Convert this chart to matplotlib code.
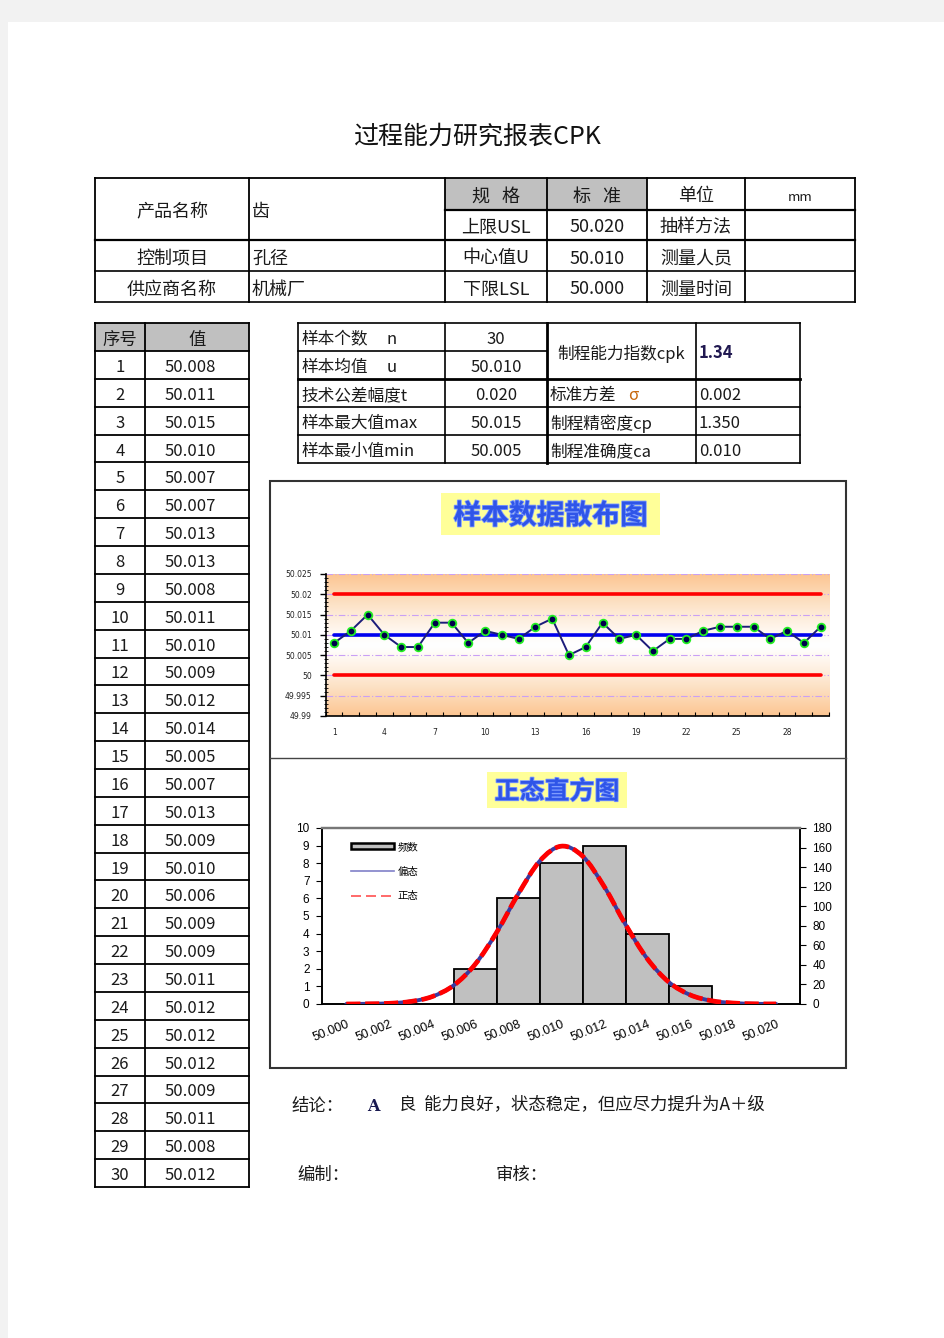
import numpy as np
import matplotlib
matplotlib.use('Agg')
import matplotlib.pyplot as plt
from matplotlib.path import Path
from matplotlib.patches import PathPatch, Rectangle, Patch
from matplotlib.lines import Line2D
from matplotlib.colors import LinearSegmentedColormap
import matplotlib.patheffects as pe

CJK = ['Noto Sans CJK SC', 'DejaVu Sans']
plt.rcParams['font.family'] = CJK
plt.rcParams['axes.unicode_minus'] = False

# ---------------- data ----------------
report_title = '过程能力研究报表CPK'

header_col1 = ['产品名称', '控制项目', '供应商名称']
header_col2 = ['齿', '孔径', '机械厂']
spec_labels = ['规   格', '上限USL', '中心值U', '下限LSL']
spec_values = ['标   准', '50.020', '50.010', '50.000']
info_labels = ['单位', '抽样方法', '测量人员', '测量时间']
info_values = ['mm', '', '', '']

sample_no = list(range(1, 31))
sample_values = [50.008, 50.011, 50.015, 50.010, 50.007, 50.007, 50.013, 50.013,
                 50.008, 50.011, 50.010, 50.009, 50.012, 50.014, 50.005, 50.007,
                 50.013, 50.009, 50.010, 50.006, 50.009, 50.009, 50.011, 50.012,
                 50.012, 50.012, 50.009, 50.011, 50.008, 50.012]
usl = 50.020
center_u = 50.010
lsl = 50.000

stat_left_labels = ['样本个数', '样本均值', '技术公差幅度t', '样本最大值max', '样本最小值min']
stat_left_symbols = ['n', 'u', '', '', '']
stat_left_values = ['30', '50.010', '0.020', '50.015', '50.005']
stat_right_labels = ['制程能力指数cpk', '标准方差', '制程精密度cp', '制程准确度ca']
stat_right_values = ['1.34', '0.002', '1.350', '0.010']

scatter_title = '样本数据散布图'
scatter_xticks = [1, 4, 7, 10, 13, 16, 19, 22, 25, 28]
scatter_yticks = [49.99, 49.995, 50.0, 50.005, 50.01, 50.015, 50.02, 50.025]
scatter_ylabels = ['49.99', '49.995', '50', '50.005', '50.01', '50.015', '50.02', '50.025']

hist_title = '正态直方图'
hist_bins = [50.006, 50.008, 50.010, 50.012, 50.014, 50.016]
hist_counts = [2, 6, 8, 9, 4, 1]
hist_xticks = [50.000, 50.002, 50.004, 50.006, 50.008, 50.010,
               50.012, 50.014, 50.016, 50.018, 50.020]
hist_xlabels = ['50.000', '50.002', '50.004', '50.006', '50.008', '50.010',
                '50.012', '50.014', '50.016', '50.018', '50.020']
curve_x = [50.000, 50.001, 50.002, 50.003, 50.004, 50.005, 50.006, 50.007,
           50.008, 50.009, 50.010, 50.011, 50.012, 50.013, 50.014, 50.015,
           50.016, 50.017, 50.018, 50.019, 50.020]
curve_skew = [0.0, 0.2, 0.7, 2.6, 7.6, 19.1, 40.7, 73.4, 112.5, 146.2, 161.4,
              151.1, 120.1, 81.0, 46.4, 22.5, 9.3, 3.3, 1.0, 0.2, 0.1]
curve_normal = [0.0, 0.2, 0.7, 2.6, 7.6, 19.1, 40.7, 73.4, 112.5, 146.2, 161.4,
                151.1, 120.1, 81.0, 46.4, 22.5, 9.3, 3.3, 1.0, 0.2, 0.1]
legend_labels = ['频数', '偏态', '正态']

conclusion_label = '结论：'
conclusion_grade = 'A'
conclusion_text = '良  能力良好，状态稳定，但应尽力提升为A＋级'
sign_labels = ['编制：', '审核：']

# ---------------- figure ----------------
W, H = 945, 1338
fig = plt.figure(figsize=(W / 100, H / 100), dpi=100)
bg = fig.add_axes([0, 0, 1, 1])
bg.set_xlim(0, W)
bg.set_ylim(H, 0)
bg.axis('off')

bg.add_patch(Rectangle((0, 0), W, 22, fc='#f2f2f2', ec='none'))
bg.add_patch(Rectangle((0, 0), 8, H, fc='#f2f2f2', ec='none'))

TXT = '#1a1a1a'
DY = 2.5


def hline(x0, x1, y, lw=1.2, c='k'):
    bg.plot([x0, x1], [y, y], color=c, lw=lw, solid_capstyle='projecting')


def vline(x, y0, y1, lw=1.2, c='k'):
    bg.plot([x, x], [y0, y1], color=c, lw=lw, solid_capstyle='projecting')


def txt(x, y, s, ha='center', size=12.5, **kw):
    kw.setdefault('color', TXT)
    bg.text(x, y + DY, s, ha=ha, va='center', fontsize=size, **kw)


# title
txt(477, 134, report_title, size=18, color='#111111')

# ---- header table ----
hx = [95, 249, 445, 547, 647, 745, 855]
bg.add_patch(Rectangle((445, 178), 102, 32, fc='#c0c0c0', ec='none'))
bg.add_patch(Rectangle((547, 178), 100, 32, fc='#c0c0c0', ec='none'))
hline(95, 855, 178, 1.3)
hline(445, 855, 210, 1.6)
hline(95, 855, 240, 1.6)
hline(95, 855, 271, 1.2)
hline(95, 855, 302, 1.2)
for x in hx:
    vline(x, 178, 302, 1.3)

row_c = [194, 225, 256, 287]
col1_y = [210, 256, 287]
for s, y in zip(header_col1, col1_y):
    txt(172, y, s, size=13)
for s, y in zip(header_col2, col1_y):
    txt(252, y, s, ha='left', size=13)
for i in range(4):
    txt(496, row_c[i], spec_labels[i], size=13)
    txt(597, row_c[i], spec_values[i], size=13)
    txt(696, row_c[i], info_labels[i], size=13)
    if info_values[i]:
        txt(800, row_c[i] + 1, info_values[i], size=9.5)

# ---- sample table ----
tx0, tx1, tx2 = 95, 145, 249
ty0, ty1 = 323, 351
rh = (1187 - 351) / 30.0
bg.add_patch(Rectangle((tx0, ty0), tx2 - tx0, ty1 - ty0, fc='#c0c0c0', ec='none'))
hline(tx0, tx2, ty0, 1.3)
for i in range(31):
    hline(tx0, tx2, ty1 + i * rh, 1.3)
for x in (tx0, tx1, tx2):
    vline(x, ty0, 1187, 1.3)
txt(120, 337, '序号', size=12.5)
txt(197, 337, '值', size=12.5)
for i, (n, v) in enumerate(zip(sample_no, sample_values)):
    yc = ty1 + (i + 0.5) * rh
    txt(120, yc, str(n), size=12)
    txt(190, yc, f'{v:.3f}', size=12)

# ---- stats table ----
hline(298, 800, 323, 1.2)
hline(298, 547, 351, 1.2)
hline(298, 800, 379, 2.0)
hline(298, 800, 407, 1.2)
hline(298, 800, 435, 1.2)
hline(298, 800, 463, 1.2)
vline(298, 323, 463, 1.2)
vline(445, 323, 463, 1.2)
vline(547, 323, 463, 2.0)
vline(696, 323, 463, 1.2)
vline(800, 323, 463, 1.2)
srow = [337, 365, 393, 421, 449]
for i in range(5):
    txt(301, srow[i], stat_left_labels[i], ha='left', size=12)
    if stat_left_symbols[i]:
        txt(392, srow[i], stat_left_symbols[i], size=12)
    txt(496, srow[i], stat_left_values[i], size=12)
txt(621, 351, stat_right_labels[0], size=12)
txt(699, 351, stat_right_values[0], ha='left', size=12, fontweight='bold', color='#201850')
for j in range(1, 4):
    txt(550, srow[j + 1], stat_right_labels[j], ha='left', size=12)
    txt(699, srow[j + 1], stat_right_values[j], ha='left', size=12)
txt(633, srow[2], 'σ', size=12, color='#c86a10')

# ---- chart frame ----
bg.add_patch(Rectangle((270, 481), 576, 587, fc='none', ec='#333333', lw=1.5))
hline(270, 846, 758, 1.0, c='#444444')

title_fx = [pe.withStroke(linewidth=1.2, foreground='#7f9cff')]
bg.add_patch(Rectangle((441, 493), 219, 42, fc='#ffff99', ec='none'))
bg.text(550.5, 516, scatter_title, ha='center', va='center', fontsize=20,
        fontweight='bold', color='#2f55e8', path_effects=title_fx)
bg.add_patch(Rectangle((487, 772), 140, 36, fc='#ffff99', ec='none'))
bg.text(557, 792, hist_title, ha='center', va='center', fontsize=18,
        fontweight='bold', color='#2f55e8', path_effects=title_fx)

# ---------------- scatter chart ----------------
ax1 = fig.add_axes([325.7 / W, 1 - 716 / H, (829 - 325.7) / W, (716 - 574) / H])
cmap = LinearSegmentedColormap.from_list('og', ['#ffffff', '#fde3c8', '#fcc592'])
grad = np.abs(np.linspace(-1, 1, 256)) ** 1.2
ax1.imshow(grad[:, None], extent=[0, 1, 0, 1], transform=ax1.transAxes,
           cmap=cmap, aspect='auto', zorder=0, interpolation='bilinear')
ax1.set_xlim(0.5, 30.5)
ax1.set_ylim(49.99, 50.025)
for yv in scatter_yticks:
    ax1.axhline(yv, color='#c9a0f5', lw=0.8, ls=(0, (6, 2, 1, 2)), zorder=1)
ax1.plot(sample_no, [usl] * len(sample_no), color='#ff0000', lw=2.6, zorder=2,
         solid_capstyle='round')
ax1.plot(sample_no, [lsl] * len(sample_no), color='#ff0000', lw=2.6, zorder=2,
         solid_capstyle='round')
ax1.plot(sample_no, [center_u] * len(sample_no), color='#0000ee', lw=2.6, zorder=3,
         solid_capstyle='round')
ax1.plot(sample_no, sample_values, color='#1c1c7a', lw=1.4, marker='o', ms=5.5,
         mfc='#00004d', mec='#22ee22', mew=1.3, zorder=4)
ax1.set_xticks(scatter_xticks, [str(v) for v in scatter_xticks], fontsize=5.5,
               fontfamily='DejaVu Sans', color='#222222')
ax1.set_xticks(np.arange(0.5, 31, 1.0), minor=True)
ax1.set_yticks(scatter_yticks, scatter_ylabels, fontsize=5.5,
               fontfamily='DejaVu Sans', color='#222222')
ax1.set_yticks(np.arange(49.99, 50.0251, 0.001), minor=True)
ax1.tick_params(axis='x', which='major', length=0, pad=9)
ax1.tick_params(axis='x', which='minor', length=3, direction='in', width=0.8)
ax1.tick_params(axis='y', which='major', length=4, direction='out', width=1, pad=6)
ax1.tick_params(axis='y', which='minor', length=2.5, direction='inout', width=0.6)
for sp in ('top', 'right'):
    ax1.spines[sp].set_visible(False)
for sp in ('left', 'bottom'):
    ax1.spines[sp].set_linewidth(1.2)
    ax1.spines[sp].set_color('k')

# ---------------- histogram ----------------
ax2 = fig.add_axes([322 / W, 1 - 1004 / H, 478 / W, 176 / H])
ax2.bar(hist_bins, hist_counts, width=0.002, color='#c0c0c0', edgecolor='k',
        lw=1.3, zorder=2)
ax2.set_xlim(49.99887, 50.02111)
ax2.set_ylim(0, 10)
ax2.set_yticks(range(0, 11), [str(v) for v in range(0, 11)], fontsize=8.5,
               fontfamily='Liberation Sans')
ax2.set_xticks(hist_xticks, hist_xlabels, fontsize=9, fontfamily='Liberation Sans',
               rotation=22, ha='right', rotation_mode='anchor')
ax2.tick_params(axis='x', length=0, pad=10)
ax2.tick_params(axis='y', length=4, direction='out', pad=5)

ax3 = ax2.twinx()
ax3.set_ylim(0, 180)
ax3.set_xlim(49.99887, 50.02111)
ax3.set_yticks(range(0, 181, 20), [str(v) for v in range(0, 181, 20)], fontsize=8.5,
               fontfamily='Liberation Sans')
ax3.tick_params(axis='y', length=4, direction='out', pad=5)


def smooth_path(xs, ys, t=1 / 6.0):
    pts = [np.array([x, y], dtype=float) for x, y in zip(xs, ys)]
    verts = [pts[0]]
    codes = [Path.MOVETO]
    n = len(pts)
    for i in range(n - 1):
        p0 = pts[i - 1] if i > 0 else pts[i]
        p1 = pts[i]
        p2 = pts[i + 1]
        p3 = pts[i + 2] if i + 2 < n else pts[i + 1]
        c1 = p1 + (p2 - p0) * t
        c2 = p2 - (p3 - p1) * t
        verts += [c1, c2, p2]
        codes += [Path.CURVE4] * 3
    return Path(verts, codes)


ax3.add_patch(PathPatch(smooth_path(curve_x, curve_skew), fill=False,
                        ec='#3a3aa0', lw=2.8, zorder=3, capstyle='round'))
ax3.add_patch(PathPatch(smooth_path(curve_x, curve_normal), fill=False,
                        ec='#ff0000', lw=3.4, ls=(0, (3, 1)), zorder=4))

for ax in (ax2, ax3):
    for sp in ('left', 'bottom', 'right'):
        ax.spines[sp].set_color('k')
        ax.spines[sp].set_linewidth(1.2)
    ax.spines['top'].set_color('#777777')
    ax.spines['top'].set_linewidth(1.6)

handles = [Patch(fc='#c0c0c0', ec='k', lw=1.8),
           Line2D([], [], color='#8080c8', lw=1.2),
           Line2D([], [], color='#ff5050', lw=1.2, ls=(0, (6, 3)))]
leg = ax3.legend(handles, legend_labels, loc='upper left',
                 bbox_to_anchor=((350.7 - 322) / 478, (1004 - 842) / 176),
                 frameon=False, fontsize=7.5, handlelength=4.2, handleheight=0.5,
                 handletextpad=0.3, labelspacing=1.4, borderpad=0, borderaxespad=0)

# ---- conclusion ----
txt(291, 1103, conclusion_label, ha='left', size=12.5)
txt(367, 1104, conclusion_grade, ha='left', size=11.5, fontweight='bold',
    color='#1a1a50', family=['DejaVu Serif'])
txt(399, 1103, conclusion_text, ha='left', size=12.5)
txt(297, 1172, sign_labels[0], ha='left', size=12.5)
txt(496, 1172, sign_labels[1], ha='left', size=12.5)

fig.savefig('out.png', dpi=100)
